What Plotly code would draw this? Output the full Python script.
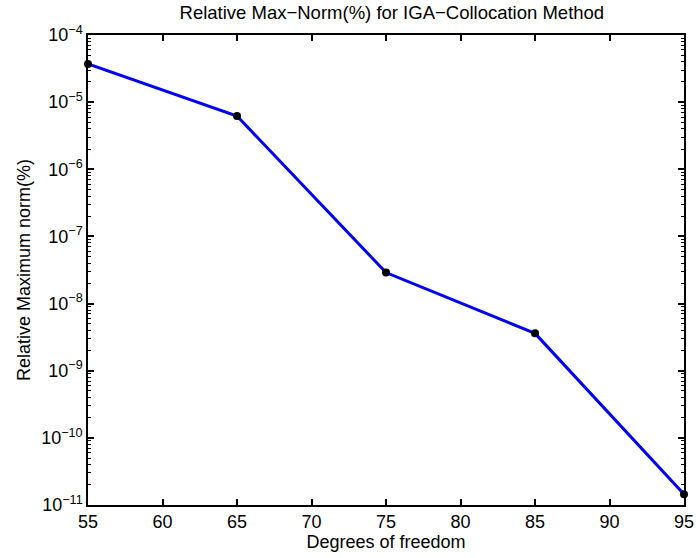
import plotly.graph_objects as go

dof = [55, 65, 75, 85, 95]
err = [3.7e-5, 6.2e-6, 2.9e-8, 3.6e-9, 1.45e-11]
x_ticks = [55, 60, 65, 70, 75, 80, 85, 90, 95]
y_exps = [-11, -10, -9, -8, -7, -6, -5, -4]

y_tickvals = [10.0 ** e for e in y_exps]
y_ticktext = ["10<sup>\u2212%d</sup>" % (-e) for e in y_exps]

fig = go.Figure()
fig.add_trace(go.Scatter(
    x=dof, y=err, mode="lines+markers",
    line=dict(color="#0000ff", width=3),
    marker=dict(color="black", size=8),
    showlegend=False, cliponaxis=False,
))

font = "Liberation Sans, Arial, sans-serif"
fig.update_layout(
    width=696, height=558,
    margin=dict(l=88, r=12, t=35, b=53),
    paper_bgcolor="white", plot_bgcolor="white",
    font=dict(family=font, color="black", size=18),
    title=dict(text="Relative Max\u2212Norm(%) for IGA\u2212Collocation Method",
               x=0.563, xanchor="center", y=0.99, yanchor="top",
               font=dict(size=18.5)),
)
fig.update_xaxes(
    range=[55, 95], tickvals=x_ticks, ticks="inside", ticklen=6,
    tickcolor="black", tickwidth=1.5, automargin=False,
    showline=True, linecolor="black", linewidth=1.5, mirror="ticks",
    showgrid=False, zeroline=False, tickfont=dict(size=18),
    title=dict(text="Degrees of freedom", font=dict(size=18), standoff=2),
)
fig.update_yaxes(
    type="log", range=[-11, -4], tickvals=y_tickvals, ticktext=y_ticktext,
    ticks="inside", ticklen=6, tickcolor="black", tickwidth=1.5,
    automargin=False,
    showline=True, linecolor="black", linewidth=1.5, mirror="ticks",
    showgrid=False, zeroline=False, tickfont=dict(size=18),
    minor=dict(ticks="inside", ticklen=3, dtick="D1",
               tickcolor="black", tickwidth=1.2, showgrid=False),
    title=dict(text="Relative Maximum norm(%)", font=dict(size=18), standoff=6),
)
fig.write_html("out.html")
